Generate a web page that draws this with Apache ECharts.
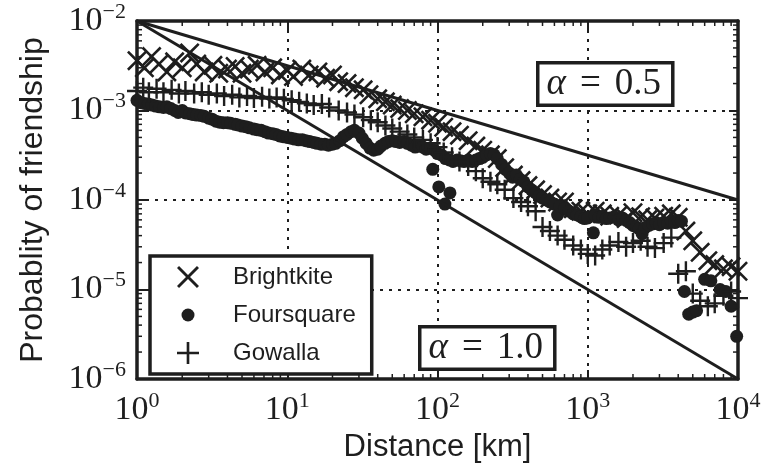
<!DOCTYPE html>
<html>
<head>
<meta charset="utf-8">
<script src="https://cdn.jsdelivr.net/npm/echarts@6/dist/echarts.min.js"></script>
<style>
html, body { margin: 0; padding: 0; background: #fff; }
#chart { width: 766px; height: 472px; }
</style>
</head>
<body>
<div id="chart"></div>
<script>
// Brightkite (x markers)
var bkDist = [1, 1.12, 1.25, 1.4, 1.58, 1.78, 2, 2.24, 2.5, 2.8, 3.2, 3.5, 4, 4.5, 5, 5.6, 6.3, 7.1, 8, 9,
    10, 11, 12.5, 14, 16, 18, 20, 22, 25, 28, 32, 35, 40, 45, 50, 56, 63, 70, 80, 90,
    100, 110, 125, 140, 160, 180, 200, 225, 250, 280, 320, 360, 400, 450, 500, 560, 630, 700, 800, 900,
    1000, 1120, 1250, 1400, 1600, 1800, 2000, 2250, 2500, 2800, 3200, 3600, 4000, 4500, 5000, 5600, 6300, 7000, 8000, 9000, 10000];
var bkProb = [3.6e-3, 3.0e-3, 4.0e-3, 3.3e-3, 2.7e-3, 3.5e-3, 3.0e-3, 4.4e-3, 3.3e-3, 2.7e-3, 3.2e-3, 2.6e-3, 2.9e-3, 3.1e-3, 2.6e-3, 2.9e-3, 3.2e-3, 2.7e-3, 3.0e-3, 2.5e-3,
    2.8e-3, 2.4e-3, 2.9e-3, 2.5e-3, 2.7e-3, 2.3e-3, 2.5e-3, 2.1e-3, 2.0e-3, 1.8e-3, 1.7e-3, 1.5e-3, 1.35e-3, 1.25e-3, 1.15e-3, 1.05e-3, 1.0e-3, 9.2e-4, 8.5e-4, 7.8e-4,
    7.2e-4, 6.5e-4, 5.8e-4, 5.3e-4, 4.6e-4, 4.0e-4, 3.6e-4, 3.2e-4, 2.9e-4, 2.3e-4, 1.9e-4, 1.65e-4, 1.45e-4, 1.3e-4, 1.15e-4, 1.05e-4, 9.5e-5, 9.5e-5, 8.0e-5, 7.5e-5,
    7.0e-5, 7.5e-5, 7.0e-5, 6.6e-5, 6.8e-5, 6.2e-5, 7.2e-5, 6.5e-5, 6.0e-5, 6.3e-5, 6.6e-5, 7.0e-5, 6.4e-5, 4.5e-5, 3.5e-5, 2.6e-5, 2.1e-5, 1.9e-5, 1.7e-5, 1.8e-5, 1.6e-5];

// Foursquare (dots)
var fsDist = [1, 1.06, 1.12, 1.19, 1.26, 1.33, 1.41, 1.5, 1.58, 1.68, 1.78, 1.88, 2, 2.1, 2.24, 2.37, 2.5, 2.66, 2.8, 3,
    3.16, 3.35, 3.55, 3.76, 4, 4.2, 4.5, 4.7, 5, 5.3, 5.6, 6, 6.3, 6.7, 7.1, 7.5, 8, 8.4, 8.9, 9.4,
    10, 10.6, 11.2, 11.9, 12.6, 13.3, 14.1, 15, 15.8, 16.8, 17.8, 18.8, 20, 21, 22.4, 23.7, 25, 26.6, 28, 30,
    31.6, 33.5, 35.5, 37.6, 40, 42, 44.7, 47, 50, 53, 56, 60, 63, 67, 71, 75, 80, 84, 89, 93,
    95, 100, 102, 106, 112, 113, 120, 121, 127, 135, 142, 150, 160, 170, 180, 190, 200, 212, 225, 238,
    250, 267, 283, 300, 316, 335, 355, 376, 400, 422, 450, 475, 500, 530, 560, 600, 630, 650, 700, 750,
    800, 850, 900, 950, 1000, 1090, 1120, 1190, 1260, 1330, 1400, 1500, 1600, 1700, 1800, 1900, 2000, 2100, 2200, 2300,
    2400, 2550, 2700, 2850, 3000, 3200, 3400, 3600, 3800, 4000, 4200, 4400, 4700, 5000, 5300, 6000, 6600, 7600, 8300, 9000, 9800];
var fsProb = [1.3e-3, 1.22e-3, 1.2e-3, 1.18e-3, 1.15e-3, 1.12e-3, 1.1e-3, 1.08e-3, 1.1e-3, 1.05e-3, 1.0e-3, 9.5e-4, 1.0e-3, 9.4e-4, 9.2e-4, 9.0e-4, 8.9e-4, 8.8e-4, 8.6e-4, 8.2e-4,
    8.0e-4, 7.6e-4, 7.4e-4, 7.3e-4, 7.3e-4, 7.2e-4, 7.0e-4, 6.9e-4, 6.7e-4, 6.6e-4, 6.4e-4, 6.2e-4, 6.1e-4, 6.0e-4, 5.8e-4, 5.6e-4, 5.5e-4, 5.4e-4, 5.2e-4, 5.1e-4,
    5.0e-4, 4.9e-4, 4.8e-4, 4.7e-4, 4.7e-4, 4.6e-4, 4.5e-4, 4.4e-4, 4.3e-4, 4.2e-4, 4.2e-4, 4.1e-4, 4.2e-4, 4.3e-4, 4.6e-4, 5.1e-4, 5.4e-4, 5.8e-4, 6.0e-4, 5.6e-4,
    4.9e-4, 4.3e-4, 3.8e-4, 3.6e-4, 3.7e-4, 4.0e-4, 4.3e-4, 4.5e-4, 4.6e-4, 4.5e-4, 4.4e-4, 4.5e-4, 4.3e-4, 4.1e-4, 3.9e-4, 4.0e-4, 3.9e-4, 3.7e-4, 3.8e-4, 2.2e-4,
    3.6e-4, 3.3e-4, 1.4e-4, 3.2e-4, 9.0e-5, 2.9e-4, 2.8e-4, 1.2e-4, 2.7e-4, 2.8e-4, 2.75e-4, 2.7e-4, 2.8e-4, 2.7e-4, 2.8e-4, 2.9e-4, 3.0e-4, 3.2e-4, 3.3e-4, 3.2e-4,
    2.9e-4, 2.5e-4, 2.2e-4, 2.0e-4, 1.8e-4, 1.9e-4, 1.7e-4, 1.6e-4, 1.4e-4, 1.3e-4, 1.2e-4, 1.1e-4, 1.05e-4, 1.0e-4, 9.5e-5, 9.0e-5, 6.8e-5, 8.5e-5, 8.0e-5, 7.5e-5,
    7.0e-5, 6.8e-5, 6.5e-5, 6.2e-5, 6.3e-5, 4.3e-5, 6.7e-5, 6.4e-5, 6.6e-5, 6.2e-5, 6.3e-5, 6.5e-5, 6.0e-5, 6.3e-5, 5.9e-5, 5.6e-5, 5.2e-5, 5.0e-5, 4.8e-5, 4.2e-5,
    4.9e-5, 5.2e-5, 5.4e-5, 5.6e-5, 5.3e-5, 5.6e-5, 5.5e-5, 5.8e-5, 5.6e-5, 5.9e-5, 5.8e-5, 9.5e-6, 5.3e-6, 5.6e-6, 5.8e-6, 1.3e-5, 1.25e-5, 1.0e-5, 9.5e-6, 6.5e-6, 3.0e-6];

// Gowalla (+ markers)
var gwDist = [1, 1.1, 1.2, 1.35, 1.5, 1.7, 1.9, 2.1, 2.4, 2.7, 3, 3.4, 3.8, 4.3, 4.8, 5.4, 6, 6.8, 7.6, 8.5,
    9.5, 10.7, 12, 13.5, 15, 17, 19, 22, 25, 28, 32, 36, 40, 45, 50, 56, 63, 70, 80, 90,
    100, 110, 125, 140, 160, 180, 200, 225, 250, 280, 320, 360, 400, 450, 500, 560, 630, 700, 800, 900,
    1000, 1120, 1250, 1400, 1600, 1800, 2000, 2250, 2500, 2800, 3200, 3600, 4000, 4500, 5000, 5600, 6300, 7000, 8000, 9000, 10000];
var gwProb = [1.65e-3, 1.8e-3, 1.6e-3, 1.75e-3, 1.6e-3, 1.7e-3, 1.55e-3, 1.65e-3, 1.55e-3, 1.6e-3, 1.5e-3, 1.55e-3, 1.45e-3, 1.5e-3, 1.4e-3, 1.45e-3, 1.38e-3, 1.42e-3, 1.36e-3, 1.4e-3,
    1.35e-3, 1.3e-3, 1.25e-3, 1.2e-3, 1.15e-3, 1.18e-3, 1.08e-3, 1.0e-3, 9.5e-4, 9.0e-4, 8.4e-4, 7.8e-4, 7.4e-4, 6.8e-4, 6.3e-4, 5.8e-4, 5.4e-4, 5.0e-4, 4.7e-4, 4.3e-4,
    3.9e-4, 3.4e-4, 3.0e-4, 2.7e-4, 2.4e-4, 2.1e-4, 1.75e-4, 1.6e-4, 1.5e-4, 1.3e-4, 1.05e-4, 9.5e-5, 8.5e-5, 7.5e-5, 5.0e-5, 4.5e-5, 4.0e-5, 3.6e-5, 3.1e-5, 2.8e-5,
    2.5e-5, 2.4e-5, 2.8e-5, 3.1e-5, 3.4e-5, 3.0e-5, 3.3e-5, 3.5e-5, 3.0e-5, 2.9e-5, 3.3e-5, 3.8e-5, 1.5e-5, 1.6e-5, 9.0e-6, 7.5e-6, 6.5e-6, 7.0e-6, 8.5e-6, 9.5e-6, 8.0e-6];

// reference power laws (endpoints)
var alphaHalf = [[1, 1e-2], [10000, 1e-4]];
var alphaOne = [[1, 1e-2], [10000, 1e-6]];

var xMin = 1, xMax = 10000, yMin = 1e-6, yMax = 1e-2;
var minorMult = [2, 3, 4, 5, 6, 7, 8, 9];
var xDecades = [1, 10, 100, 1000];
var yDecades = [1e-6, 1e-5, 1e-4, 1e-3];

var ink = '#1e1e1e';
var xPath = 'path://M0,1.84 L1.84,0 L10,8.16 L18.16,0 L20,1.84 L11.84,10 L20,18.16 L18.16,20 L10,11.84 L1.84,20 L0,18.16 L8.16,10 Z';
var plusPath = 'path://M8.8,0 H11.2 V8.8 H20 V11.2 H11.2 V20 H8.8 V11.2 H0 V8.8 H8.8 Z';
var dotPath = 'path://M0,0 M22,22 M4.5,11 A6.5,6.5 0 1 1 17.5,11 A6.5,6.5 0 1 1 4.5,11 Z';

function zip(a, b) {
    var res = [];
    for (var i = 0; i < a.length; i++) res.push([a[i], b[i]]);
    return res;
}

var xMinor = [], yMinor = [];
xDecades.forEach(function (d) {
    minorMult.forEach(function (m) { xMinor.push([d * m, yMin]); });
});
yDecades.forEach(function (d) {
    minorMult.forEach(function (m) { yMinor.push([xMin, d * m]); });
});

function powLabel(v) {
    var e = Math.round(Math.log(v) / Math.LN10);
    return '{b|10}{s|' + (e < 0 ? '\u2212' + (-e) : e) + '}';
}
var powRich = {
    b: { fontFamily: 'Liberation Serif', fontSize: 34, color: ink, lineHeight: 40 },
    s: { fontFamily: 'Liberation Serif', fontSize: 22, color: ink, lineHeight: 22, verticalAlign: 'top' }
};

function alphaText(val) {
    return '{i|\u03b1}{e|=}{n|' + val + '}';
}
var alphaRich = {
    i: { fontFamily: 'Liberation Serif', fontStyle: 'italic', fontSize: 37, lineHeight: 34 },
    e: { fontFamily: 'Liberation Serif', fontSize: 37, lineHeight: 34, padding: [0, 14, 0, 14] },
    n: { fontFamily: 'Liberation Serif', fontSize: 37, lineHeight: 34 }
};

var chart = echarts.init(document.getElementById('chart'));

var frameAxis = {
    type: 'log', logBase: 10,
    axisLine: { show: true, onZero: false, lineStyle: { color: ink, width: 3.5 } },
    axisTick: { show: true, inside: true, length: 9, lineStyle: { color: ink, width: 2 } },
    splitLine: { show: false },
    axisLabel: { show: false }
};

var option = {
    animation: false,
    backgroundColor: '#fff',
    grid: { left: 137, right: 28, top: 21, bottom: 93 },
    xAxis: [
        echarts.util.merge({
            min: xMin, max: xMax, position: 'bottom',
            name: 'Distance [km]', nameLocation: 'middle', nameGap: 52,
            nameTextStyle: { fontFamily: 'Liberation Sans', fontSize: 31, color: ink },
            splitLine: { show: true, lineStyle: { color: ink, width: 2, type: [3, 6] } },
            axisLabel: { show: true, margin: 11, formatter: powLabel, rich: powRich, showMinLabel: true, showMaxLabel: true }
        }, frameAxis),
        echarts.util.merge({ min: xMin, max: xMax, position: 'top' }, frameAxis)
    ],
    yAxis: [
        echarts.util.merge({
            min: yMin, max: yMax, position: 'left',
            name: 'Probablity of friendship', nameLocation: 'middle', nameGap: 88,
            nameTextStyle: { fontFamily: 'Liberation Sans', fontSize: 32, color: ink },
            splitLine: { show: true, lineStyle: { color: ink, width: 2, type: [3, 6] } },
            axisLabel: { show: true, margin: 11, formatter: powLabel, rich: powRich }
        }, frameAxis),
        echarts.util.merge({ min: yMin, max: yMax, position: 'right' }, frameAxis)
    ],
    legend: {
        orient: 'vertical', left: 150, top: 256,
        data: [
            { name: 'Brightkite', icon: xPath },
            { name: 'Foursquare', icon: dotPath },
            { name: 'Gowalla', icon: plusPath }
        ],
        itemWidth: 22, itemHeight: 22, itemGap: 14,
        padding: [9, 16, 9, 27],
        borderColor: ink, borderWidth: 3.5, borderRadius: 0,
        backgroundColor: '#fff',
        selectedMode: false,
        textStyle: { fontFamily: 'Liberation Sans', fontSize: 24, color: ink, padding: [0, 0, 0, 29] }
    },
    graphic: [
        {
            type: 'text', left: 536, top: 61, z: 10,
            style: {
                text: alphaText('0.5'), rich: alphaRich, fill: ink,
                backgroundColor: '#fff', borderColor: ink, borderWidth: 3.5,
                padding: [3, 10, 2, 7]
            }
        },
        {
            type: 'text', left: 418, top: 325, z: 10,
            style: {
                text: alphaText('1.0'), rich: alphaRich, fill: ink,
                backgroundColor: '#fff', borderColor: ink, borderWidth: 3.5,
                padding: [3, 10, 2, 7]
            }
        }
    ],
    series: [
        {
            name: 'Brightkite', type: 'scatter', data: zip(bkDist, bkProb),
            symbol: xPath, symbolSize: 20, itemStyle: { color: ink, opacity: 1 }, z: 2
        },
        {
            name: 'Foursquare', type: 'scatter', data: zip(fsDist, fsProb),
            symbol: 'circle', symbolSize: 13, itemStyle: { color: ink, opacity: 1 }, z: 3
        },
        {
            name: 'Gowalla', type: 'scatter', data: zip(gwDist, gwProb),
            symbol: plusPath, symbolSize: 20, itemStyle: { color: ink, opacity: 1 }, z: 3
        },
        {
            name: 'alpha05', type: 'line', data: alphaHalf, symbol: 'none', silent: true,
            lineStyle: { color: ink, width: 3 }, z: 4
        },
        {
            name: 'alpha10', type: 'line', data: alphaOne, symbol: 'none', silent: true,
            lineStyle: { color: ink, width: 3 }, z: 4
        },
        {
            // minor ticks on bottom/top
            type: 'custom', data: xMinor, silent: true, z: 5,
            renderItem: function (params, api) {
                var v = api.value(0);
                var b = api.coord([v, yMin]);
                var t = api.coord([v, yMax]);
                return {
                    type: 'group', children: [
                        { type: 'line', shape: { x1: b[0], y1: b[1], x2: b[0], y2: b[1] - 5 }, style: { stroke: ink, lineWidth: 1.5 } },
                        { type: 'line', shape: { x1: t[0], y1: t[1], x2: t[0], y2: t[1] + 5 }, style: { stroke: ink, lineWidth: 1.5 } }
                    ]
                };
            }
        },
        {
            // minor ticks on left/right
            type: 'custom', data: yMinor, silent: true, z: 5,
            renderItem: function (params, api) {
                var v = api.value(1);
                var l = api.coord([xMin, v]);
                var r = api.coord([xMax, v]);
                return {
                    type: 'group', children: [
                        { type: 'line', shape: { x1: l[0], y1: l[1], x2: l[0] + 5, y2: l[1] }, style: { stroke: ink, lineWidth: 1.5 } },
                        { type: 'line', shape: { x1: r[0], y1: r[1], x2: r[0] - 5, y2: r[1] }, style: { stroke: ink, lineWidth: 1.5 } }
                    ]
                };
            }
        }
    ]
};

chart.setOption(option);
</script>
</body>
</html>
